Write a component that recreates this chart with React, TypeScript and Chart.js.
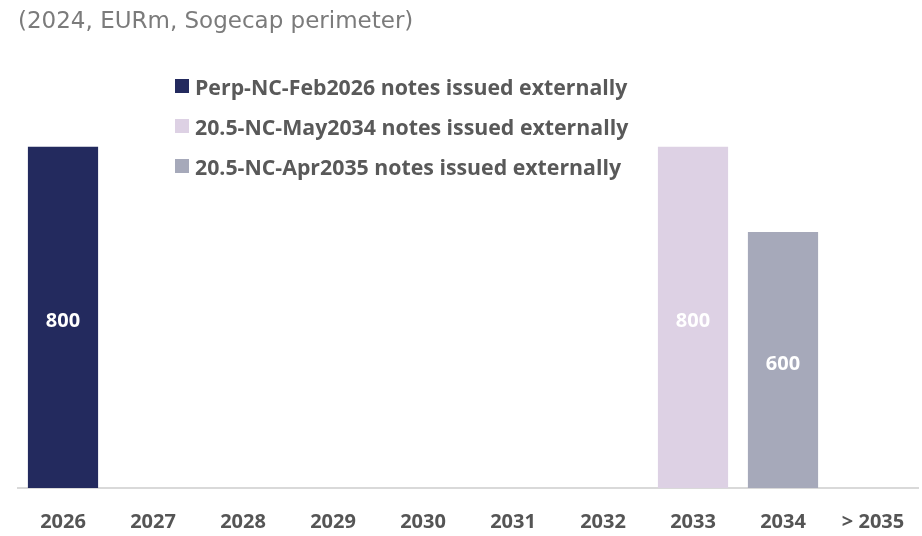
import React, { useEffect, useRef } from "react";
import { Chart, registerables } from "chart.js";

Chart.register(...registerables);

const categories = ["2026", "2027", "2028", "2029", "2030", "2031", "2032", "2033", "2034", "> 2035"];
const seriesNames = [
  "Perp-NC-Feb2026 notes issued externally",
  "20.5-NC-May2034 notes issued externally",
  "20.5-NC-Apr2035 notes issued externally",
];
const perpFeb2026 = [800, null, null, null, null, null, null, null, null, null];
const ncMay2034 = [null, null, null, null, null, null, null, 800, null, null];
const ncApr2035 = [null, null, null, null, null, null, null, null, 600, null];
const seriesColors = ["#232a5e", "#ddd1e4", "#a6a9ba"];
const titleText = "(2024, EURm, Sogecap perimeter)";

const valueLabels = {
  id: "valueLabels",
  afterDatasetsDraw(chart: any) {
    const ctx = chart.ctx;
    ctx.save();
    ctx.fillStyle = "#ffffff";
    ctx.font = "bold 20px 'Open Sans'";
    ctx.textAlign = "center";
    ctx.textBaseline = "middle";
    chart.data.datasets.forEach((ds: any, i: number) => {
      const meta = chart.getDatasetMeta(i);
      meta.data.forEach((el: any, j: number) => {
        const v = ds.data[j];
        if (v == null) return;
        const cy = (el.y + el.base) / 2;
        ctx.fillText(String(v), el.x, cy + 4);
      });
    });
    ctx.restore();
  },
};

export default function App() {
  const ref = useRef<HTMLCanvasElement | null>(null);
  useEffect(() => {
    if (!ref.current) return;
    const datasets = [perpFeb2026, ncMay2034, ncApr2035].map((d, i) => ({
      label: seriesNames[i],
      data: d,
      backgroundColor: seriesColors[i],
      grouped: false,
      categoryPercentage: 1,
      barPercentage: 0.78,
    }));
    const chart = new Chart(ref.current, {
      type: "bar",
      data: { labels: categories, datasets },
      options: {
        animation: false,
        responsive: false,
        maintainAspectRatio: false,
        layout: { padding: { left: 18, right: 4, top: 0, bottom: 0 } },
        plugins: {
          legend: { display: false },
          tooltip: { enabled: false },
          title: {
            display: true,
            text: titleText,
            align: "start",
            color: "#7b7b7b",
            font: { family: "DejaVu Sans", size: 23, weight: "normal" },
            padding: { top: 8, bottom: 111 },
          },
        },
        scales: {
          x: {
            grid: { display: false, drawTicks: false },
            border: { display: true, color: "#d9d9d9", width: 2 },
            ticks: {
              color: "#555555",
              font: { family: "Open Sans", size: 20, weight: "bold" },
              padding: 22,
            },
            afterFit: (scale: any) => {
              scale.height = 48;
              scale.paddingLeft = 0;
              scale.paddingRight = 0;
            },
          },
          y: {
            display: false,
            min: 0,
            max: 800,
          },
        },
      },
      plugins: [valueLabels],
    });
    return () => chart.destroy();
  }, []);

  return (
    <div style={{ position: "absolute", left: 0, top: 0, width: 922, height: 536 }}>
      <canvas ref={ref} width={922} height={536} style={{ width: 922, height: 536 }} />
      <div style={{ position: "absolute", left: 175, top: 66, fontFamily: "'Open Sans'", fontWeight: "bold", fontSize: 21.3, color: "#595959" }}>
        {seriesNames.map((n, i) => (
          <div key={n} style={{ height: 40, display: "flex", alignItems: "center" }}>
            <span style={{ display: "inline-block", width: 14, height: 14, background: seriesColors[i], marginRight: 6 }} />
            <span>{n}</span>
          </div>
        ))}
      </div>
    </div>
  );
}
